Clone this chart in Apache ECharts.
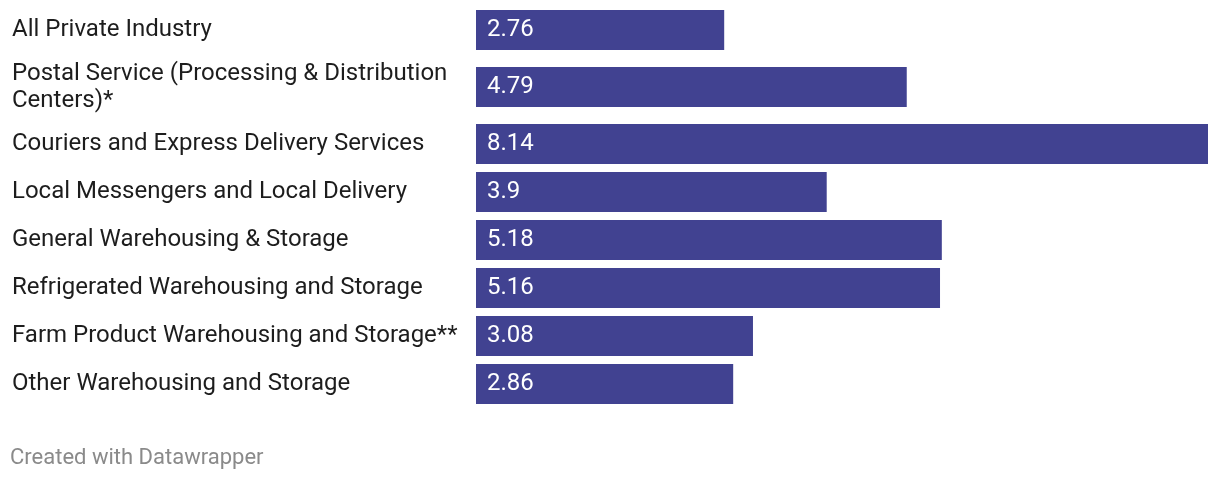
<!DOCTYPE html>
<html>
<head>
<meta charset="utf-8">
<style>
  html, body { margin: 0; padding: 0; background: #ffffff; }
  #chart { width: 1220px; height: 480px; }
</style>
<script src="https://cdn.jsdelivr.net/npm/echarts@6/dist/echarts.min.js"></script>
</head>
<body>
<div id="chart"></div>
<script>
const categories = [
  "All Private Industry",
  "Postal Service (Processing & Distribution Centers)*",
  "Couriers and Express Delivery Services",
  "Local Messengers and Local Delivery",
  "General Warehousing & Storage",
  "Refrigerated Warehousing and Storage",
  "Farm Product Warehousing and Storage**",
  "Other Warehousing and Storage"
];
const values = [2.76, 4.79, 8.14, 3.9, 5.18, 5.16, 3.08, 2.86];
const footerText = "Created with Datawrapper";

(function () {
  // layout: row band heights (two-line label rows are taller)
  const rowHeights = [48, 66, 48, 48, 48, 48, 48, 48];
  const firstTop = 6;
  const gridLeft = 476;
  const gridRight = 12;
  const barColor = "#414291";
  const maxVal = Math.max(...values);

  const grids = [], xAxes = [], yAxes = [], series = [];
  let rowTop = firstTop;
  categories.forEach((cat, i) => {
    grids.push({ left: gridLeft, right: gridRight, top: rowTop, height: rowHeights[i], containLabel: false });
    rowTop += rowHeights[i];
    xAxes.push({ gridIndex: i, type: 'value', min: 0, max: maxVal, show: false });
    yAxes.push({
      gridIndex: i, type: 'category', data: [cat],
      axisLine: { show: false }, axisTick: { show: false }, splitLine: { show: false },
      axisLabel: {
        align: 'left', margin: gridLeft - 12, width: 456, overflow: 'break',
        fontFamily: 'Roboto', fontSize: 24, lineHeight: 27, color: '#1d1d1d',
        padding: [5, 0, 0, 0]
      }
    });
    series.push({
      type: 'bar', xAxisIndex: i, yAxisIndex: i, data: [values[i]],
      barWidth: 40, silent: true,
      itemStyle: { color: barColor },
      label: {
        show: true, position: 'insideLeft', distance: 11,
        fontFamily: 'Roboto', fontSize: 24, color: '#ffffff',
        padding: [5, 0, 0, 0],
        formatter: p => String(p.value)
      }
    });
  });

  const chart = echarts.init(document.getElementById('chart'), null, { renderer: 'canvas' });
  chart.setOption({
    animation: false,
    backgroundColor: '#ffffff',
    grid: grids,
    xAxis: xAxes,
    yAxis: yAxes,
    series: series,
    graphic: [{
      type: 'text', left: 10, top: 447,
      style: { text: footerText, fontFamily: 'Roboto', fontSize: 22, fill: '#8a8a8a' }
    }]
  });
})();
</script>
</body>
</html>
